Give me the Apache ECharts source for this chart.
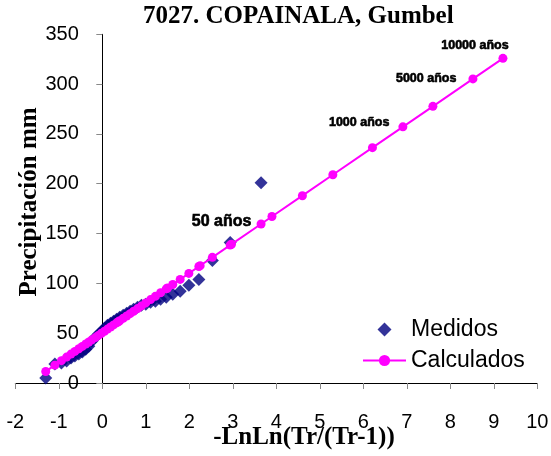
<!DOCTYPE html>
<html><head><meta charset="utf-8">
<script src="https://cdn.jsdelivr.net/npm/echarts@6/dist/echarts.min.js"></script>
<style>html,body{margin:0;padding:0;background:#fff}#c{width:551px;height:456px}</style>
</head><body><div id="c"></div>
<script>
// Measured (Medidos) points: reduced variate -LnLn(Tr/(Tr-1)) and precipitation
const measX = [3.65, 2.94, 2.53, 2.22, 1.99, 1.79, 1.62, 1.47, 1.34, 1.22, 1.11, 1.00, 0.90, 0.81, 0.72, 0.64, 0.56, 0.48, 0.40, 0.33, 0.26, 0.19, 0.12, 0.05, -0.02, -0.09, -0.16, -0.24, -0.31, -0.38, -0.46, -0.54, -0.63, -0.72, -0.82, -0.94, -1.09, -1.30];
const measY = [201, 141, 123, 104, 98, 92, 89, 86, 84, 82, 81, 79, 78, 76, 74, 72, 70, 68, 66, 64, 62, 60, 58, 55, 52, 49, 46, 42, 37, 34, 31, 29, 27, 25, 22, 20, 19, 5];
// Calculated (Calculados) Gumbel line points
const calcX = [-1.30, -1.09, -0.94, -0.82, -0.72, -0.63, -0.54, -0.46, -0.38, -0.31, -0.24, -0.16, -0.09, -0.02, 0.05, 0.12, 0.19, 0.26, 0.33, 0.37, 0.40, 0.48, 0.56, 0.64, 0.72, 0.81, 0.90, 1.00, 1.11, 1.22, 1.34, 1.47, 1.50, 1.62, 1.79, 1.99, 2.22, 2.25, 2.53, 2.94, 2.97, 3.65, 3.90, 4.60, 5.30, 6.21, 6.91, 7.60, 8.52, 9.21];
const calcY = [11.6, 17.9, 22.4, 26.0, 29.0, 31.7, 34.4, 36.7, 39.1, 41.2, 43.3, 45.6, 47.8, 49.9, 52.0, 54.1, 56.2, 58.3, 60.4, 61.5, 62.5, 64.9, 67.2, 69.6, 72.0, 74.7, 77.4, 80.4, 83.7, 87.0, 90.6, 94.5, 95.4, 98.9, 104.0, 110.0, 116.9, 117.8, 126.1, 138.4, 139.3, 159.6, 167.1, 188.0, 209.0, 236.2, 257.1, 277.7, 305.2, 325.9];
// Return-period labels
const periodLabels = ['50 años', '1000 años', '5000 años', '10000 años'];
const periodX = [3.90, 6.91, 8.52, 9.21];
// Axis ticks
const xTicks = {min: -2, max: 10, step: 1};
const yTicks = {min: 0, max: 350, step: 50};

const labelStyles = [
  {position: 'left', offset: [-11, 5.5], fontSize: 16},
  {position: 'left', offset: [-4, -4], fontSize: 12.5},
  {position: 'left', offset: [-7, 0], fontSize: 12.5},
  {position: 'top', offset: [-28, 3], fontSize: 12.5}
];
const labelFont = '"Liberation Sans", Arial, sans-serif';

const measData = measX.map((x, i) => [x, measY[i]]);
const calcData = calcX.map((x, i) => {
  const k = periodX.indexOf(x);
  if (k < 0) return [x, calcY[i]];
  return {
    value: [x, calcY[i]],
    label: Object.assign({
      show: true, formatter: periodLabels[k], color: '#000',
      fontFamily: labelFont, fontWeight: 'bold',
      textBorderColor: '#000', textBorderWidth: 0.6
    }, labelStyles[k])
  };
});

const serif = '"Liberation Serif", "Times New Roman", serif';
const sans = '"Liberation Sans", Arial, sans-serif';
const chart = echarts.init(document.getElementById('c'), null, {renderer: 'canvas'});
chart.setOption({
  animation: false,
  backgroundColor: '#fff',
  grid: {left: 15.3, right: 13.7, top: 34.3, bottom: 73, containLabel: false, outerBoundsMode: 'none'},
  xAxis: {
    type: 'value', min: xTicks.min, max: xTicks.max, interval: xTicks.step,
    splitLine: {show: false},
    axisLine: {onZero: true, lineStyle: {color: '#000', width: 1}},
    axisTick: {show: true, length: 6, lineStyle: {color: '#888'}},
    axisLabel: {color: '#000', fontFamily: sans, fontSize: 20, margin: 29}
  },
  yAxis: {
    type: 'value', min: yTicks.min, max: yTicks.max, interval: yTicks.step,
    offset: -87,
    splitLine: {show: false},
    axisLine: {show: true, onZero: false, lineStyle: {color: '#000', width: 1}},
    axisTick: {show: true, length: 6, lineStyle: {color: '#888'}},
    axisLabel: {color: '#000', fontFamily: sans, fontSize: 20, margin: 23.5}
  },
  legend: {
    orient: 'vertical', left: 357, top: 313, itemGap: 8,
    itemWidth: 43, itemHeight: 14, symbolKeepAspect: true,
    textStyle: {color: '#000', fontFamily: sans, fontSize: 23},
    data: [{name: 'Medidos', icon: 'path://M7,0L14,7L7,14L0,7Z'}, 'Calculados']
  },
  graphic: [
    {type: 'text', left: 143, top: 4, style: {text: '7027. COPAINALA, Gumbel', font: 'bold 25px ' + serif, fill: '#000'}},
    {type: 'text', x: 304, y: 438, style: {text: '-LnLn(Tr/(Tr-1))', font: 'bold 25px ' + serif, fill: '#000', textAlign: 'center', textVerticalAlign: 'middle'}},
    {type: 'text', x: 30, y: 202, rotation: Math.PI / 2, style: {text: 'Precipitación mm', font: 'bold 25px ' + serif, fill: '#000', textAlign: 'center', textVerticalAlign: 'middle'}}
  ],
  series: [
    {
      name: 'Medidos', type: 'scatter', symbol: 'diamond', symbolSize: 13,
      itemStyle: {color: '#000080'}, data: measData, z: 2
    },
    {
      name: 'Calculados', type: 'line', symbol: 'circle', symbolSize: 9, showSymbol: true,
      lineStyle: {color: '#FF00FF', width: 2}, itemStyle: {color: '#FF00FF'},
      data: calcData, z: 3
    }
  ]
});
</script></body></html>
